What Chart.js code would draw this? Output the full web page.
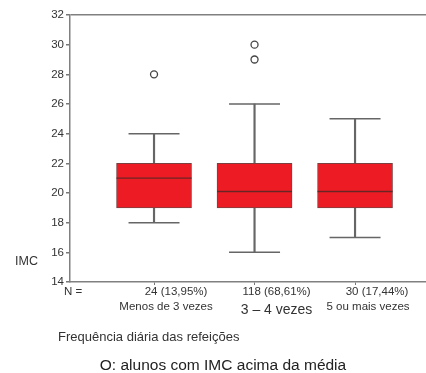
<!DOCTYPE html>
<html lang="pt">
<head>
    <meta charset="UTF-8">
    <meta name="viewport" content="width=device-width, initial-scale=1.0">
    <title>IMC por frequência diária das refeições</title>
    <script src="https://cdn.jsdelivr.net/npm/chart.js@4.4.1/dist/chart.umd.min.js"></script>
    <style>
        html, body {
            margin: 0;
            padding: 0;
            background-color: #fff;
        }
        .container {
            width: 426px;
            height: 373px;
            position: relative;
        }
    </style>
</head>
<body>
    <div class="container">
        <canvas id="boxChart"></canvas>
    </div>

    <script>
        // Data
        const categories = ['Menos de 3 vezes', '3 – 4 vezes', '5 ou mais vezes'];
        const counts = ['24 (13,95%)', '118 (68,61%)', '30 (17,44%)'];
        const whiskerLow = [18, 16, 17];
        const q1 = [19, 19, 19];
        const medians = [21, 20.1, 20.1];
        const q3 = [22, 22, 22];
        const whiskerHigh = [24, 26, 25];
        const outliers = [[28], [30, 29], []];
        const yTicks = [14, 16, 18, 20, 22, 24, 26, 28, 30, 32];

        const FONT = '"Liberation Sans", Arial, sans-serif';
        const TEXT = '#333';
        const AXIS = '#808080';

        // labels under the axis sit a bit right of each box
        const countShift = 22;
        const nameShift = [12, 22, 13];

        const xs = categories.map((c, i) => i + 1);

        const stems = xs.map((x, i) => ({ x: x, y: [whiskerLow[i], whiskerHigh[i]] }));
        const boxes = xs.map((x, i) => ({ x: x, y: [q1[i], q3[i]] }));
        const caps = [];
        xs.forEach((x, i) => {
            caps.push({ x: x, y: whiskerLow[i] });
            caps.push({ x: x, y: whiskerHigh[i] });
        });
        const medianPts = xs.map((x, i) => ({ x: x, y: medians[i] }));
        const outlierPts = [];
        outliers.forEach((list, i) => list.forEach(v => outlierPts.push({ x: xs[i], y: v })));

        // text under and beside the plot
        const textPlugin = {
            id: 'textPlugin',
            afterDraw(chart) {
                const ctx = chart.ctx;
                const x = chart.scales.x;
                ctx.save();
                ctx.fillStyle = TEXT;
                ctx.textBaseline = 'middle';

                ctx.textAlign = 'left';
                ctx.font = '12.5px ' + FONT;
                ctx.fillText('IMC', 15, 262);

                ctx.textAlign = 'center';
                ctx.font = '11.5px ' + FONT;
                ctx.fillText('N =', 73, 292);
                counts.forEach((t, i) => {
                    ctx.fillText(t, x.getPixelForValue(xs[i]) + countShift, 292);
                });
                categories.forEach((t, i) => {
                    ctx.font = (i === 1 ? '14px ' : '11.5px ') + FONT;
                    ctx.fillText(t, x.getPixelForValue(xs[i]) + nameShift[i], i === 1 ? 310 : 307);
                });

                ctx.textAlign = 'left';
                ctx.font = '13px ' + FONT;
                ctx.fillText('Frequência diária das refeições', 58, 337);

                ctx.textAlign = 'center';
                ctx.font = '15.5px ' + FONT;
                ctx.fillStyle = '#222';
                ctx.fillText('O: alunos com IMC acima da média', 223, 366);
                ctx.restore();
            }
        };

        const ctx = document.getElementById('boxChart').getContext('2d');
        new Chart(ctx, {
            type: 'bar',
            data: {
                datasets: [
                    {
                        type: 'scatter',
                        data: outlierPts,
                        pointStyle: 'circle',
                        radius: 3.5,
                        backgroundColor: '#fff',
                        borderColor: '#444',
                        borderWidth: 1.3,
                        order: 0
                    },
                    {
                        type: 'scatter',
                        data: medianPts,
                        pointStyle: 'line',
                        radius: 37.5,
                        borderColor: '#6b2424',
                        borderWidth: 1.3,
                        order: 1
                    },
                    {
                        type: 'bar',
                        data: boxes,
                        backgroundColor: '#ed1c24',
                        borderColor: '#7a4040',
                        borderWidth: 1,
                        borderSkipped: false,
                        barThickness: 75,
                        grouped: false,
                        order: 2
                    },
                    {
                        type: 'scatter',
                        data: caps,
                        pointStyle: 'line',
                        radius: 25.5,
                        borderColor: '#666',
                        borderWidth: 1.5,
                        order: 3
                    },
                    {
                        type: 'bar',
                        data: stems,
                        backgroundColor: '#666',
                        borderWidth: 0,
                        barThickness: 1.5,
                        grouped: false,
                        order: 4
                    }
                ]
            },
            options: {
                responsive: true,
                maintainAspectRatio: false,
                animation: false,
                events: [],
                layout: {
                    autoPadding: false,
                    padding: { top: 15, right: 0, left: 0, bottom: 0 }
                },
                plugins: {
                    legend: { display: false },
                    tooltip: { enabled: false }
                },
                scales: {
                    x: {
                        type: 'linear',
                        offset: false,
                        min: 0.164,
                        max: 3.706,
                        afterFit: s => { s.height = 91; },
                        afterBuildTicks: s => { s.ticks = xs.map(v => ({ value: v })); },
                        ticks: { display: false, autoSkip: false },
                        grid: {
                            offset: false,
                            drawOnChartArea: false,
                            drawTicks: true,
                            tickLength: 3,
                            color: '#777'
                        },
                        border: { display: true, color: AXIS, width: 1.5 }
                    },
                    y: {
                        type: 'linear',
                        min: 14,
                        max: 32,
                        afterFit: s => { s.width = 70; },
                        afterBuildTicks: s => { s.ticks = yTicks.map(v => ({ value: v })); },
                        ticks: {
                            color: TEXT,
                            padding: 2,
                            font: { family: FONT, size: 11.5 }
                        },
                        grid: {
                            color: c => (c.tick && c.tick.value === 32 ? AXIS : 'rgba(0,0,0,0)'),
                            lineWidth: 1.5,
                            tickColor: '#777',
                            tickLength: 4
                        },
                        border: { display: true, color: AXIS, width: 1.5 }
                    }
                }
            },
            plugins: [textPlugin]
        });
    </script>
</body>
</html>
